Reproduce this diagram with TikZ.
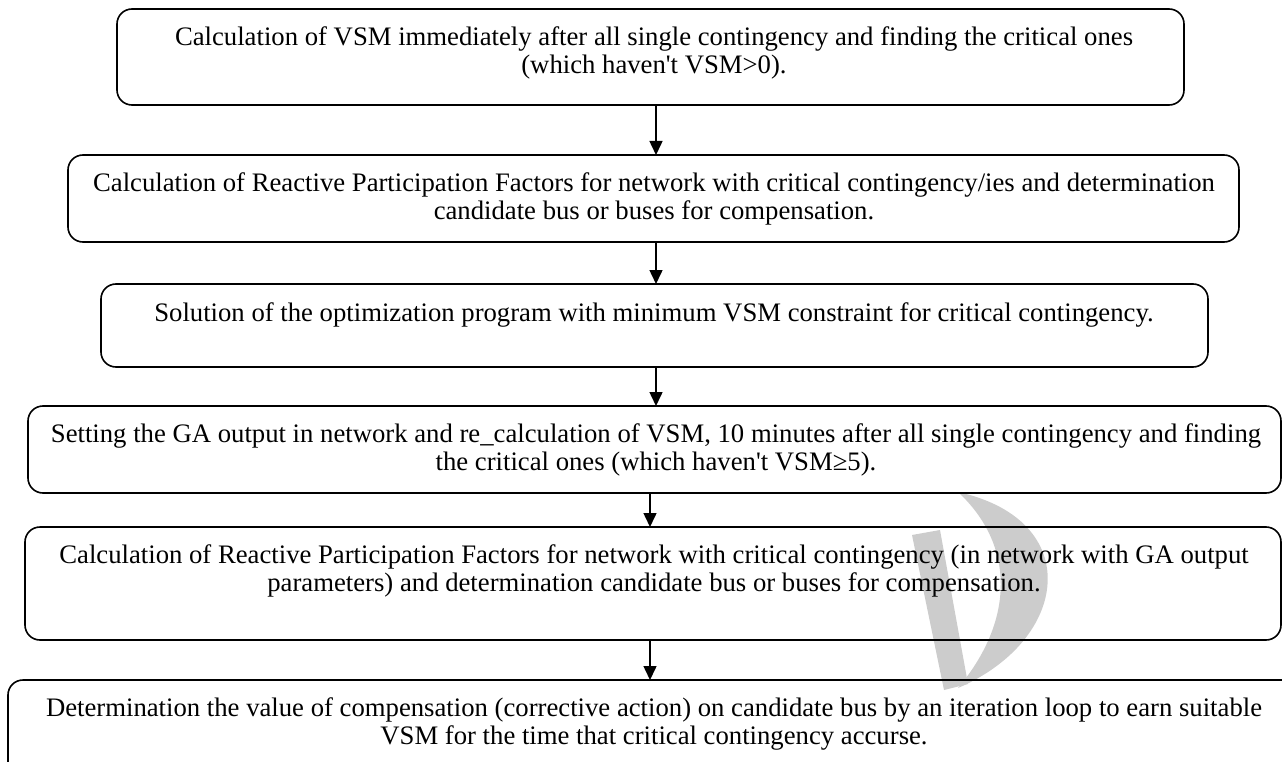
\documentclass[tikz,border=0pt]{standalone}
\usepackage{fontspec}
\setmainfont{Liberation Serif}[Ligatures=TeXOff]
\usetikzlibrary{arrows.meta}
\newcommand\firstline{\rule{0pt}{19pt}}
\begin{document}
\begin{tikzpicture}[x=1pt,y=-1pt,
  box/.style={draw=black, line width=1.6pt, rounded corners=15pt, rectangle, inner sep=0pt, outer sep=0pt},
  txt/.style={font=\fontsize{26.7}{28}\selectfont, align=center, anchor=north, inner sep=0pt},
  flow/.style={line width=1.5pt, -{Triangle[length=14pt,width=13pt]}},
  wm/.style={fill=black!20, draw=none}]
\useasboundingbox (0,0) rectangle (1282,762);
\clip (0,0) rectangle (1282,762);
% faint watermark
\fill[wm] (958,492) .. controls (1085,520) and (1070,640) .. (958,688)
  .. controls (1015,620) and (1015,545) .. (958,492) -- cycle;
\fill[wm] (912,535) -- (940,530) -- (968,684) -- (944,690) -- cycle;
% boxes
\node[box, minimum width=1067pt, minimum height=96pt] (b1) at (650.5,57) {};
\node[box, minimum width=1171pt, minimum height=87pt] (b2) at (653.5,198.5) {};
\node[box, minimum width=1107pt, minimum height=83pt] (b3) at (654.5,325.5) {};
\node[box, minimum width=1253pt, minimum height=87pt] (b4) at (654.5,449.5) {};
\node[box, minimum width=1256pt, minimum height=113pt] (b5) at (653,583.5) {};
\node[box, minimum width=1292pt, minimum height=120pt] (b6) at (654,740) {};
% texts
\node[txt] (t1) at (654,26) {\firstline Calculation of VSM immediately after all single contingency and finding the critical ones\\(which haven't VSM>0).};
\node[txt] (t2) at (654,172) {\firstline Calculation of Reactive Participation Factors for network with critical contingency/ies and determination\\candidate bus or buses for compensation.};
\node[txt] (t3) at (654,302) {\firstline Solution of the optimization program with minimum VSM constraint for critical contingency.};
\node[txt] (t4) at (656,423) {\firstline Setting the GA output in network and re\_calculation of VSM, 10 minutes after all single contingency and finding\\the critical ones (which haven't VSM≥5).};
\node[txt] (t5) at (654,544) {\firstline Calculation of Reactive Participation Factors for network with critical contingency (in network with GA output\\parameters) and determination candidate bus or buses for compensation.};
\node[txt] (t6) at (654,697) {\firstline Determination the value of compensation (corrective action) on candidate bus by an iteration loop to earn suitable\\VSM for the time that critical contingency accurse.};
% connectors
\coordinate (ax) at (656,0);
\coordinate (bx) at (650,0);
\draw[flow] (b1.south -| ax) -- (b2.north -| ax);
\draw[flow] (b2.south -| ax) -- (b3.north -| ax);
\draw[flow] (b3.south -| ax) -- (b4.north -| ax);
\draw[flow] (b4.south -| bx) -- (b5.north -| bx);
\draw[flow] (b5.south -| bx) -- (b6.north -| bx);
\end{tikzpicture}
\end{document}
